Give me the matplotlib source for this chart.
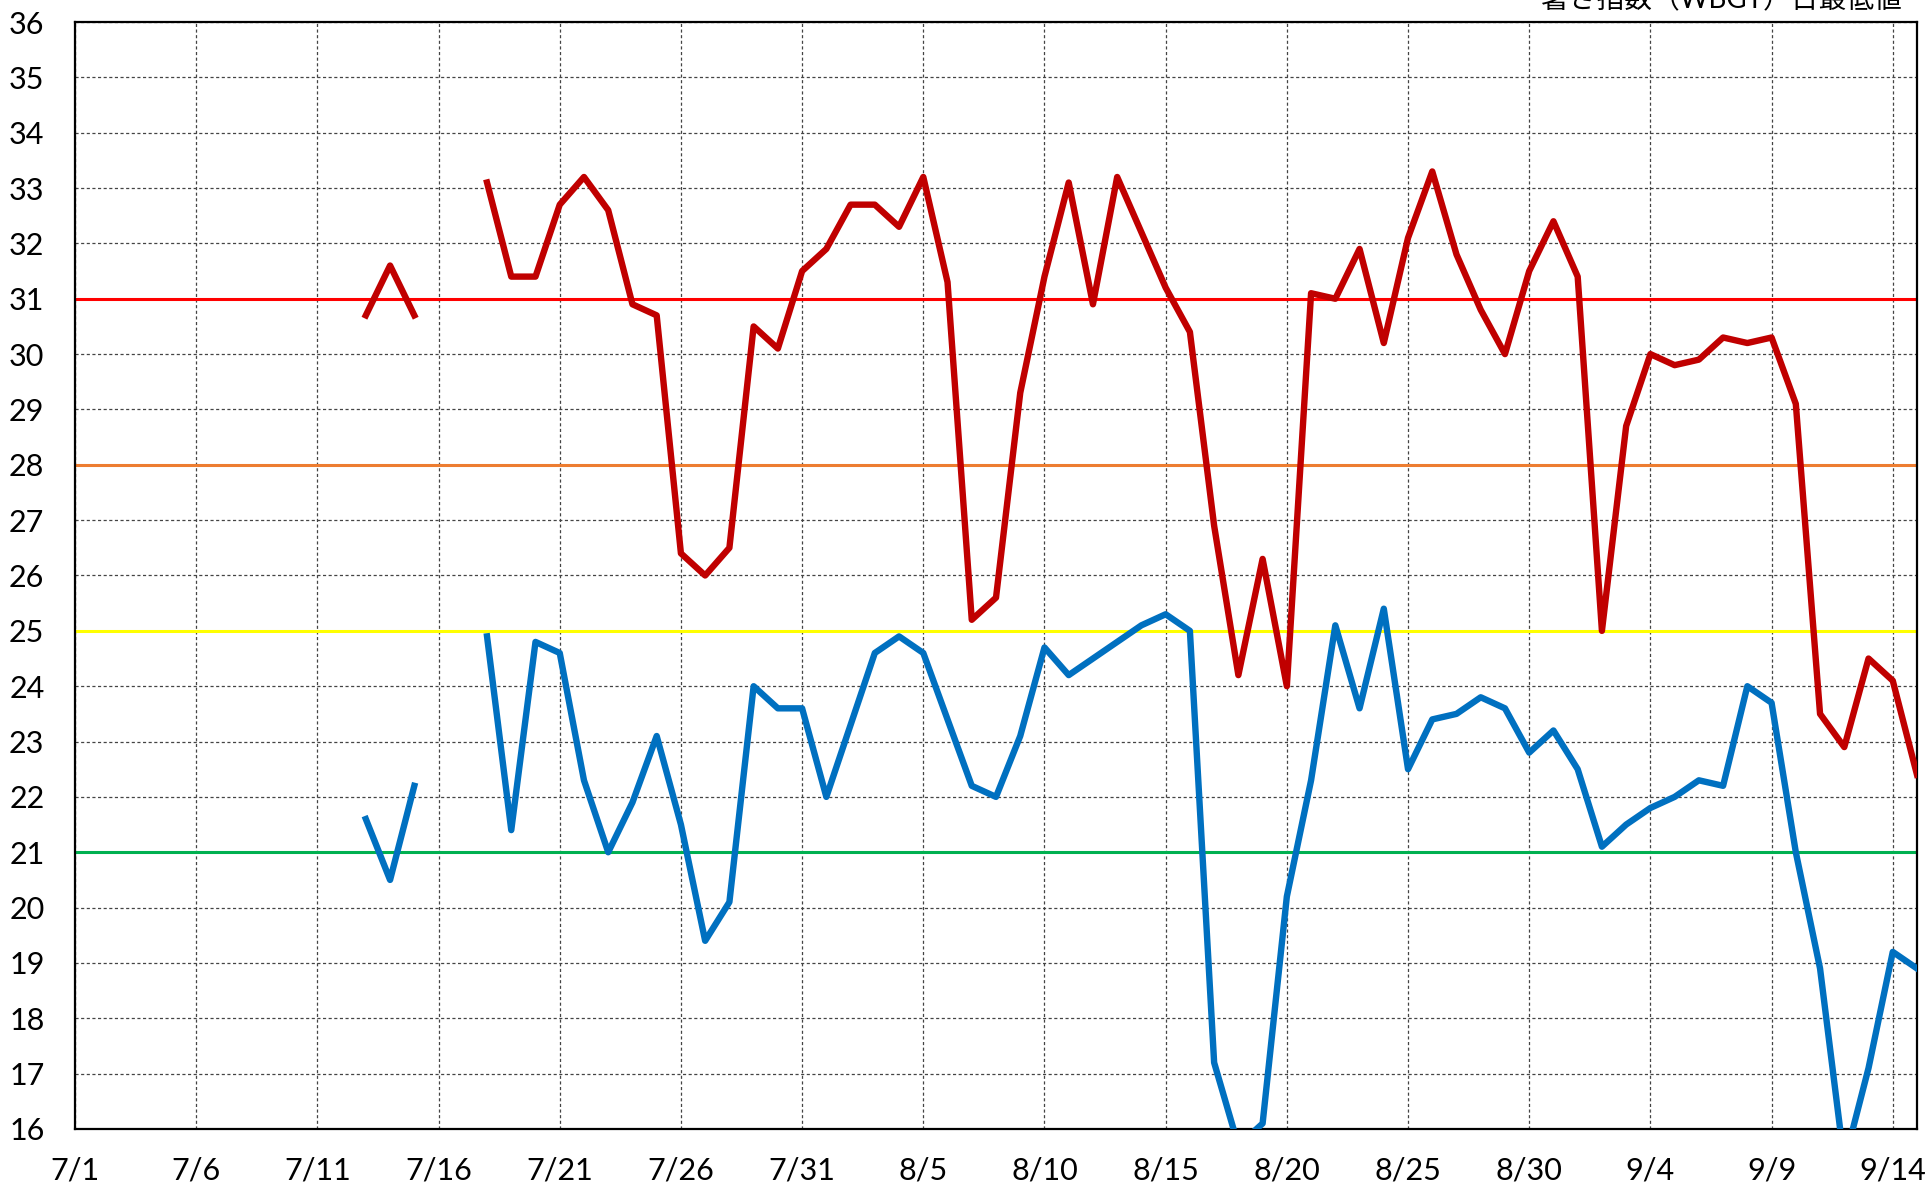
import matplotlib
matplotlib.use("Agg")
import matplotlib.pyplot as plt
import numpy as np
import pandas as pd

plt.rcParams['font.family'] = ['Lato', 'Noto Sans CJK JP', 'DejaVu Sans']

# daily values 7/1 .. 9/15 (None = no data)
dates = pd.date_range('2023-07-01', '2023-09-15', freq='D')

wbgt_max = [None] * 12 + [
    30.7, 31.6, 30.7, None, None,
    33.1, 31.4, 31.4, 32.7, 33.2, 32.6, 30.9, 30.7, 26.4, 26.0, 26.5, 30.5, 30.1, 31.5,
    31.9, 32.7, 32.7, 32.3, 33.2, 31.3, 25.2, 25.6, 29.3, 31.4, 33.1, 30.9, 33.2, 32.2,
    31.2, 30.4, 26.9, 24.2, 26.3, 24.0, 31.1, 31.0, 31.9, 30.2, 32.1, 33.3, 31.8, 30.8,
    30.0, 31.5, 32.4,
    31.4, 25.0, 28.7, 30.0, 29.8, 29.9, 30.3, 30.2, 30.3, 29.1, 23.5, 22.9, 24.5, 24.1, 22.4,
]

wbgt_min = [None] * 12 + [
    21.6, 20.5, 22.2, None, None,
    24.9, 21.4, 24.8, 24.6, 22.3, 21.0, 21.9, 23.1, 21.5, 19.4, 20.1, 24.0, 23.6, 23.6,
    22.0, 23.3, 24.6, 24.9, 24.6, 23.4, 22.2, 22.0, 23.1, 24.7, 24.2, 24.5, 24.8, 25.1,
    25.3, 25.0, 17.2, 15.7, 16.1, 20.2, 22.3, 25.1, 23.6, 25.4, 22.5, 23.4, 23.5, 23.8,
    23.6, 22.8, 23.2,
    22.5, 21.1, 21.5, 21.8, 22.0, 22.3, 22.2, 24.0, 23.7, 21.0, 18.9, 15.4, 17.1, 19.2, 18.9,
]

# reference levels and their colours
levels = [31, 28, 25, 21]
level_colors = ['#FF0000', '#ED7D31', '#FFFF00', '#00B050']

title = '暑さ指数（WBGT）日最低値'

W, H = 1928, 1187
fig = plt.figure(figsize=(W / 100, H / 100), dpi=100)
ax = fig.add_axes([75 / W, 1 - 1129 / H, (1917 - 75) / W, (1129 - 22) / H])

y_max = np.array([np.nan if v is None else v for v in wbgt_max])
y_min = np.array([np.nan if v is None else v for v in wbgt_min])

for lv, c in zip(levels, level_colors):
    ax.axhline(lv, color=c, lw=2.2, zorder=2)

ax.plot(dates, y_max, color='#C00000', lw=4.6, zorder=3)
ax.plot(dates, y_min, color='#0070C0', lw=4.6, zorder=3)

ax.set_xlim(dates[0], dates[-1])
ax.set_ylim(16, 36)
ax.set_yticks(range(16, 37))

xt = dates[::5]
ax.set_xticks(xt)
ax.set_xticklabels([f'{d.month}/{d.day}' for d in xt])

ax.grid(True, color='#444444', lw=0.9, linestyle=(0, (2.5, 2)), zorder=1)
ax.tick_params(axis='both', length=0, labelsize=22)
ax.tick_params(axis='y', pad=22)
ax.tick_params(axis='x', pad=20)
for sp in ax.spines.values():
    sp.set_linewidth(1.6)
    sp.set_color('black')

# title sits partly above the top edge, as in the source image
fig.text(1902 / W, 1 - 8 / H, title, ha='right', va='baseline', fontsize=20)

fig.savefig('out.png', dpi=100)
